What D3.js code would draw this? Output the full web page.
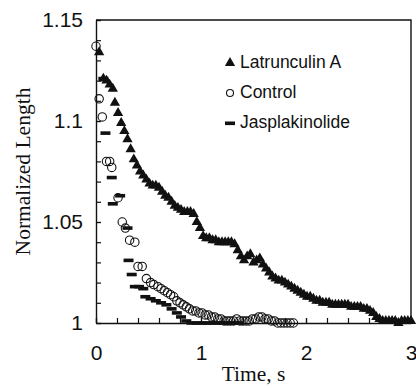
<!DOCTYPE html>
<html lang="en">
    <head>
        <meta charset="utf-8">
        <title>Normalized Length vs Time</title>
        <script type="text/javascript" src="https://d3js.org/d3.v7.min.js"></script>
        <style type="text/css">
            body { margin: 0; background: white; }
            .tick text { font-family: "Liberation Sans", Arial, sans-serif; font-size: 21px; fill: #111; }
            .legend text { font-family: "Liberation Sans", Arial, sans-serif; font-size: 17.5px; fill: #111; }
            .title { font-family: "Liberation Serif", "Times New Roman", serif; font-size: 21.5px; fill: #111; }
        </style>
    </head>
    <body>
        <script type="text/javascript">

        // Latrunculin A (triangles): [time s, normalized length]
        var latrunculin = [
            [0.03,1.134],[0.07,1.121],[0.10,1.120],[0.13,1.118],[0.16,1.116],[0.18,1.109],
            [0.21,1.104],[0.24,1.099],[0.27,1.095],[0.30,1.091],[0.33,1.086],[0.36,1.081],
            [0.39,1.078],[0.42,1.075],[0.45,1.073],[0.48,1.071],[0.51,1.069],[0.54,1.068],
            [0.57,1.068],[0.60,1.067],[0.63,1.065],[0.66,1.063],[0.69,1.062],[0.72,1.060],
            [0.75,1.058],[0.78,1.057],[0.81,1.056],[0.84,1.055],[0.87,1.055],[0.90,1.055],
            [0.93,1.054],[0.96,1.050],[0.99,1.047],[1.02,1.043],[1.05,1.042],[1.08,1.042],
            [1.11,1.041],[1.14,1.041],[1.17,1.040],[1.20,1.040],[1.23,1.040],[1.26,1.040],
            [1.29,1.040],[1.32,1.039],[1.35,1.036],[1.38,1.033],[1.41,1.031],[1.44,1.033],
            [1.47,1.034],[1.50,1.030],[1.53,1.031],[1.56,1.032],[1.59,1.029],[1.62,1.027],
            [1.65,1.025],[1.68,1.023],[1.71,1.022],[1.74,1.021],[1.77,1.021],[1.80,1.020],
            [1.83,1.019],[1.86,1.018],[1.89,1.017],[1.92,1.016],[1.95,1.015],[1.98,1.014],
            [2.01,1.013],[2.04,1.013],[2.07,1.012],[2.10,1.011],[2.13,1.011],[2.16,1.010],
            [2.19,1.010],[2.22,1.010],[2.25,1.009],[2.28,1.009],[2.31,1.009],[2.34,1.009],
            [2.37,1.009],[2.40,1.009],[2.43,1.008],[2.46,1.008],[2.49,1.008],[2.52,1.008],
            [2.55,1.007],[2.58,1.007],[2.61,1.006],[2.64,1.005],[2.67,1.003],[2.70,1.002],
            [2.73,1.001],[2.76,1.001],[2.79,1.001],[2.82,1.001],[2.85,1.001],[2.88,1.000],
            [2.91,1.001],[2.94,1.001],[2.97,1.001],[3.00,1.001]
        ];

        // Control (open circles)
        var control = [
            [0.00,1.137],[0.03,1.111],[0.06,1.102],[0.10,1.080],[0.13,1.080],[0.15,1.077],
            [0.21,1.062],[0.25,1.050],[0.28,1.047],[0.32,1.041],[0.37,1.040],[0.40,1.028],
            [0.44,1.028],[0.48,1.022],[0.52,1.020],[0.55,1.019],[0.59,1.018],[0.62,1.017],
            [0.65,1.016],[0.68,1.015],[0.71,1.014],[0.74,1.013],[0.77,1.011],[0.80,1.010],
            [0.83,1.009],[0.86,1.008],[0.89,1.007],[0.92,1.006],[0.95,1.006],[0.98,1.005],
            [1.01,1.005],[1.04,1.004],[1.07,1.004],[1.10,1.003],[1.13,1.003],[1.16,1.002],
            [1.19,1.002],[1.22,1.001],[1.25,1.001],[1.28,1.001],[1.31,1.001],[1.34,1.002],
            [1.37,1.001],[1.40,1.001],[1.43,1.001],[1.46,1.001],[1.49,1.002],[1.52,1.002],
            [1.55,1.003],[1.58,1.003],[1.61,1.002],[1.64,1.002],[1.67,1.001],[1.70,1.001],
            [1.73,1.000],[1.76,1.000],[1.79,1.000],[1.82,1.000],[1.85,1.000],[1.88,1.000]
        ];

        // Jasplakinolide (dashes)
        var jasplakinolide = [
            [0.07,1.121],[0.09,1.094],[0.15,1.072],[0.16,1.059],[0.23,1.063],[0.30,1.047],
            [0.31,1.031],[0.34,1.024],[0.37,1.018],[0.41,1.018],[0.45,1.017],[0.47,1.013],
            [0.52,1.012],[0.57,1.011],[0.62,1.010],[0.67,1.009],[0.72,1.007],[0.77,1.005],
            [0.81,1.003],[0.86,1.001],[0.91,1.000],[0.96,1.000],[1.01,1.000],[1.06,1.000],
            [1.11,1.000],[1.16,1.000],[1.21,1.000],[1.26,1.000],[1.31,1.000],[1.36,1.000]
        ];

        var seriesNames = ["Latrunculin A", "Control", "Jasplakinolide"];
        var xTicks = [0, 1, 2, 3];
        var yTicks = [1, 1.05, 1.1, 1.15];

        // Size and margins
        var w = 416, h = 388;
        var margin = {top: 20, right: 5, bottom: 65, left: 96};

        var x = d3.scaleLinear().domain([0, 3]).range([margin.left, w - margin.right]);
        var y = d3.scaleLinear().domain([1, 1.15]).range([h - margin.bottom, margin.top]);

        var svg = d3.select("body")
                    .append("svg")
                    .attr("width", w)
                    .attr("height", h);

        // Minor ticks (inward)
        svg.append("g")
            .attr("transform", "translate(0," + (h - margin.bottom) + ")")
            .call(d3.axisBottom(x).tickValues(d3.range(0, 3.001, 0.2)).tickSize(-5).tickFormat(""))
            .call(function(g){ g.select(".domain").remove(); });
        svg.append("g")
            .attr("transform", "translate(" + margin.left + ",0)")
            .call(d3.axisLeft(y).tickValues(d3.range(1, 1.1501, 0.01)).tickSize(-5).tickFormat(""))
            .call(function(g){ g.select(".domain").remove(); });

        // Major axes
        svg.append("g")
            .attr("transform", "translate(0," + (h - margin.bottom) + ")")
            .call(d3.axisBottom(x).tickValues(xTicks).tickSizeInner(-5).tickSizeOuter(0).tickPadding(22)
                .tickFormat(function(d){ return String(d); }));
        svg.append("g")
            .attr("transform", "translate(" + margin.left + ",0)")
            .call(d3.axisLeft(y).tickValues(yTicks).tickSizeInner(-5).tickSizeOuter(0).tickPadding(13)
                .tickFormat(function(d){ return String(d); }));

        svg.selectAll(".tick line").attr("stroke", "#111").attr("stroke-width", 1.2);
        svg.selectAll(".domain").attr("stroke", "#111").attr("stroke-width", 1.4);

        // Box top and right
        svg.append("path")
            .attr("d", "M" + x(0) + "," + y(1.15) + "H" + x(3) + "V" + y(1))
            .attr("fill", "none")
            .attr("stroke", "#111")
            .attr("stroke-width", 1.4);

        var tri = d3.symbol().type(d3.symbolTriangle).size(46);

        // Latrunculin A
        svg.append("g").selectAll("path")
            .data(latrunculin)
            .enter()
            .append("path")
            .attr("d", tri)
            .attr("transform", function(d){ return "translate(" + x(d[0]) + "," + y(d[1]) + ")"; })
            .attr("fill", "#111");

        // Control
        svg.append("g").selectAll("circle")
            .data(control)
            .enter()
            .append("circle")
            .attr("cx", function(d){ return x(d[0]); })
            .attr("cy", function(d){ return y(d[1]); })
            .attr("r", 4.2)
            .attr("fill", "none")
            .attr("stroke", "#111")
            .attr("stroke-width", 1.1);

        // Jasplakinolide
        svg.append("g").selectAll("rect")
            .data(jasplakinolide)
            .enter()
            .append("rect")
            .attr("x", function(d){ return x(d[0]) - 5; })
            .attr("y", function(d){ return y(d[1]) - 1.8; })
            .attr("width", 10)
            .attr("height", 3.6)
            .attr("fill", "#111");

        // Legend
        var legend = svg.append("g").attr("class", "legend");
        var ly = [62, 92, 122];
        legend.selectAll("text")
            .data(seriesNames)
            .enter()
            .append("text")
            .attr("x", 240)
            .attr("y", function(d, i){ return ly[i]; })
            .attr("dy", "0.35em")
            .text(function(d){ return d; });
        legend.append("path").attr("d", tri).attr("transform", "translate(230," + (ly[0] + 1) + ")").attr("fill", "#111");
        legend.append("circle").attr("cx", 230).attr("cy", ly[1] + 1).attr("r", 3.5)
            .attr("fill", "none").attr("stroke", "#111").attr("stroke-width", 1.1);
        legend.append("rect").attr("x", 225).attr("y", ly[2] - 0.5).attr("width", 10).attr("height", 3.6).attr("fill", "#111");

        // Axis titles
        svg.append("text")
            .attr("class", "title")
            .attr("x", (x(0) + x(3)) / 2)
            .attr("y", 381)
            .attr("text-anchor", "middle")
            .text("Time, s");
        svg.append("text")
            .attr("class", "title")
            .attr("transform", "translate(30," + ((y(1) + y(1.15)) / 2) + ") rotate(-90)")
            .attr("text-anchor", "middle")
            .text("Normalized Length");
        </script>
    </body>
</html>
